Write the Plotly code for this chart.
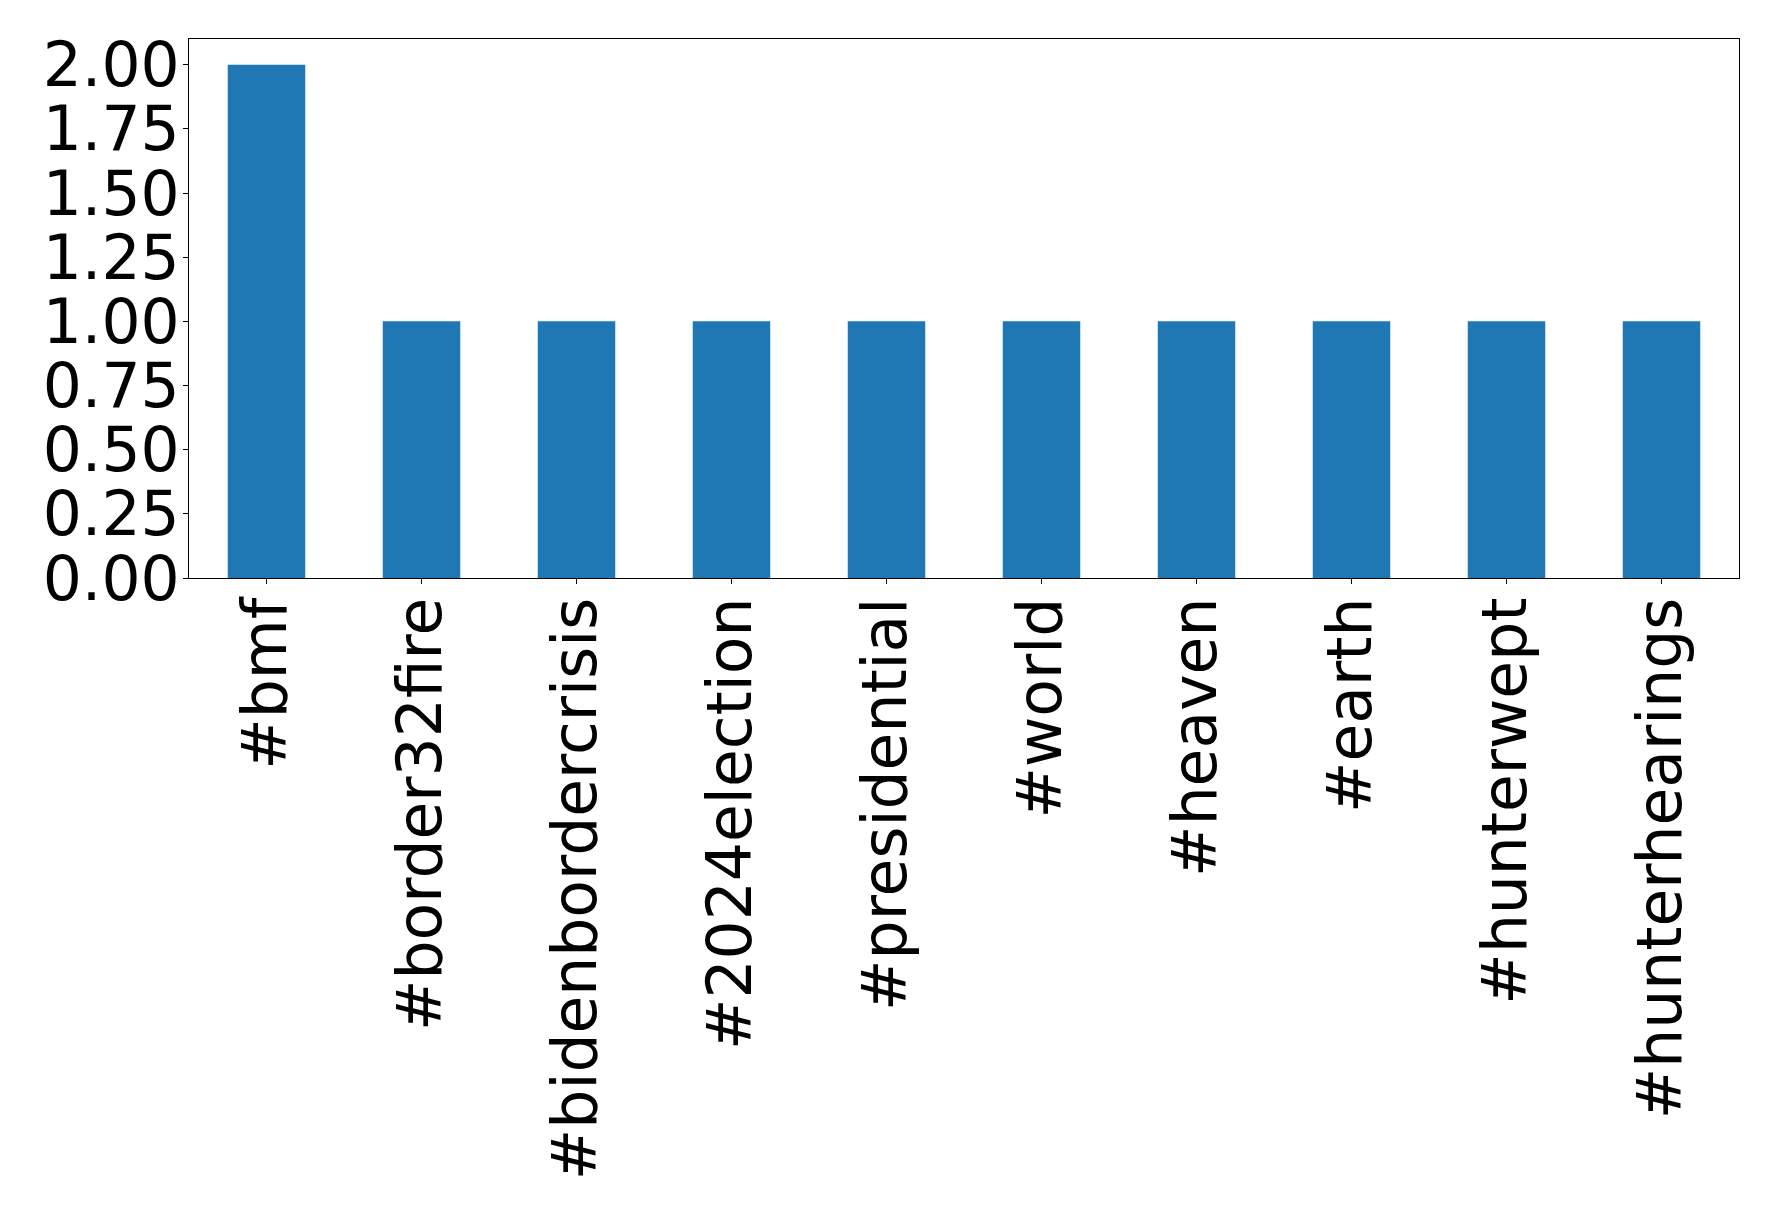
import plotly.graph_objects as go

categories = ["#bmf", "#border32fire", "#bidenbordercrisis", "#2024election", "#presidential",
              "#world", "#heaven", "#earth", "#hunterwept", "#hunterhearings"]
values = [2, 1, 1, 1, 1, 1, 1, 1, 1, 1]
y_ticks = [0, 0.25, 0.5, 0.75, 1.0, 1.25, 1.5, 1.75, 2.0]

fig = go.Figure(go.Bar(x=list(range(len(categories))), y=values, width=0.5,
                       marker=dict(color="#1f77b4", line=dict(width=0))))

font = dict(family="DejaVu Sans", size=61.5, color="black")
fig.update_layout(
    width=1770, height=1212,
    margin=dict(l=181, r=39, t=31, b=642),
    paper_bgcolor="white", plot_bgcolor="white",
    font=font, showlegend=False,
)
fig.update_xaxes(
    range=[-0.5, len(categories) - 0.5],
    tickmode="array", tickvals=list(range(len(categories))), ticktext=categories,
    tickangle=-90, ticks="outside", ticklen=5, tickwidth=1.1, tickcolor="black",
    ticklabelstandoff=-11,
    showline=True, linecolor="black", linewidth=1.1, mirror=True,
    showgrid=False, zeroline=False, automargin=False, tickfont=font,
)
fig.update_yaxes(
    range=[0, 2.1],
    tickmode="array", tickvals=y_ticks, ticktext=[f"{v:.2f}" for v in y_ticks],
    ticks="outside", ticklen=5, tickwidth=1.1, tickcolor="black",
    ticklabelstandoff=-9,
    showline=True, linecolor="black", linewidth=1.1, mirror=True,
    showgrid=False, zeroline=False, automargin=False, tickfont=font,
)
fig.write_html("out.html")
